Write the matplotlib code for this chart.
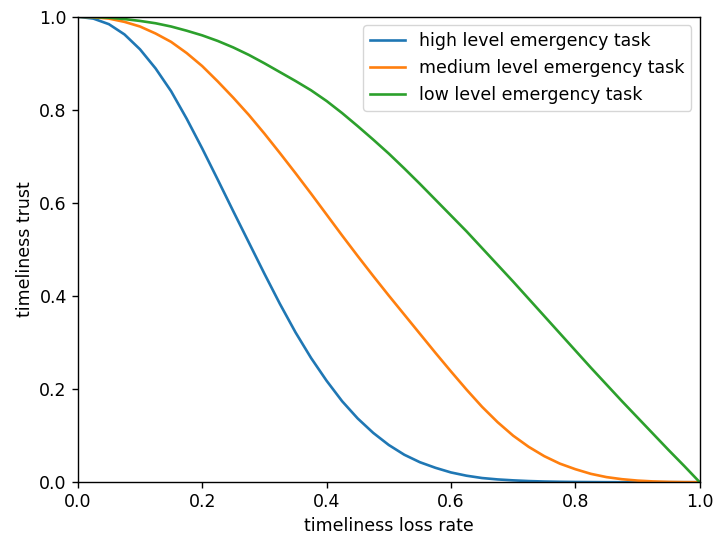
import matplotlib
matplotlib.use("Agg")
import matplotlib.pyplot as plt

x = [0.000, 0.025, 0.050, 0.075, 0.100, 0.125, 0.150, 0.175, 0.200, 0.225,
     0.250, 0.275, 0.300, 0.325, 0.350, 0.375, 0.400, 0.425, 0.450, 0.475,
     0.500, 0.525, 0.550, 0.575, 0.600, 0.625, 0.650, 0.675, 0.700, 0.725,
     0.750, 0.775, 0.800, 0.825, 0.850, 0.875, 0.900, 0.925, 0.950, 0.975,
     1.000]

high = [1.000, 0.996, 0.984, 0.962, 0.930, 0.889, 0.840, 0.781, 0.717, 0.650,
        0.582, 0.515, 0.448, 0.383, 0.322, 0.267, 0.218, 0.174, 0.137, 0.106,
        0.080, 0.059, 0.043, 0.031, 0.021, 0.014, 0.009, 0.006, 0.004, 0.0025,
        0.0015, 0.0009, 0.0005, 0.0003, 0.0001, 0.0, 0.0, 0.0, 0.0, 0.0,
        0.0]

medium = [1.000, 0.999, 0.996, 0.989, 0.979, 0.964, 0.946, 0.922, 0.894, 0.861,
          0.826, 0.789, 0.749, 0.707, 0.664, 0.620, 0.575, 0.530, 0.486, 0.443,
          0.401, 0.360, 0.319, 0.278, 0.238, 0.199, 0.162, 0.129, 0.100, 0.076,
          0.056, 0.040, 0.028, 0.018, 0.011, 0.0065, 0.0035, 0.0017, 0.0007, 0.0002,
          0.0]

low = [1.000, 0.9995, 0.998, 0.995, 0.991, 0.986, 0.979, 0.970, 0.960, 0.948,
       0.934, 0.918, 0.900, 0.881, 0.862, 0.842, 0.819, 0.793, 0.765, 0.736,
       0.706, 0.674, 0.641, 0.607, 0.573, 0.539, 0.503, 0.467, 0.431, 0.394,
       0.357, 0.320, 0.283, 0.246, 0.210, 0.174, 0.139, 0.104, 0.069, 0.035,
       0.0]

labels = ["high level emergency task", "medium level emergency task",
          "low level emergency task"]

plt.rcParams["font.size"] = 12.5

fig = plt.figure(figsize=(7.14, 5.4), dpi=100)
ax = fig.add_axes([0.109, 0.107, 0.871, 0.862])
ax.plot(x, high, color="#1f77b4", lw=1.9, label=labels[0])
ax.plot(x, medium, color="#ff7f0e", lw=1.9, label=labels[1])
ax.plot(x, low, color="#2ca02c", lw=1.9, label=labels[2])
ax.set_xlim(0, 1)
ax.set_ylim(0, 1)
ax.set_xlabel("timeliness loss rate")
ax.set_ylabel("timeliness trust")
ax.tick_params(length=4.4, width=1.0)
for s in ax.spines.values():
    s.set_linewidth(1.0)
ax.legend(loc="upper right")
fig.savefig("out.png", dpi=100)
